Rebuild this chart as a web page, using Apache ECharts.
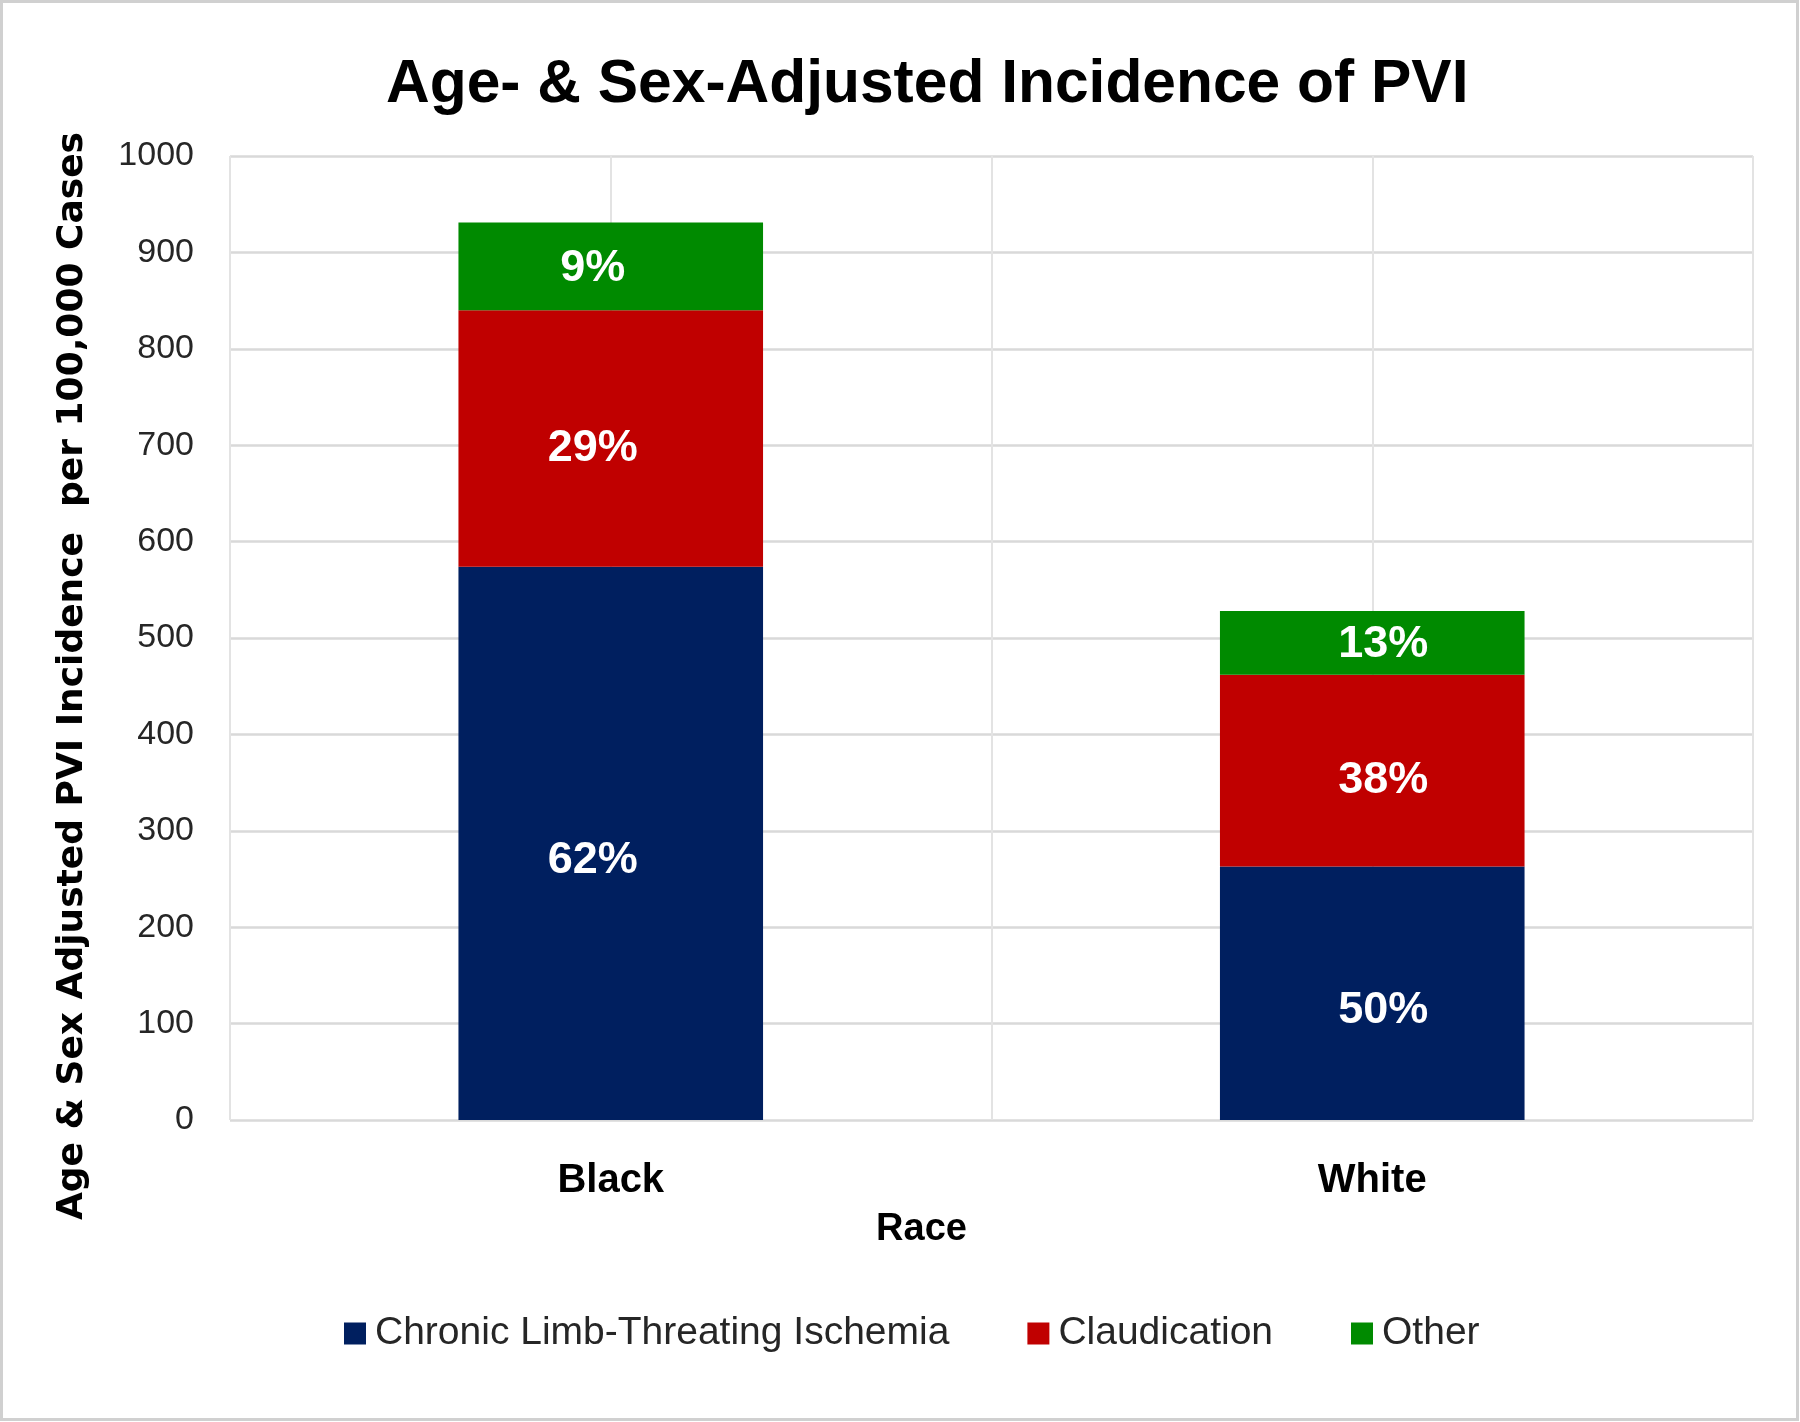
<!DOCTYPE html>
<html>
<head>
<meta charset="utf-8">
<script src="https://cdn.jsdelivr.net/npm/echarts@6/dist/echarts.min.js"></script>
<style>html,body{margin:0;padding:0;background:#fff}#c{width:1800px;height:1422px}</style>
</head>
<body>
<div id="c"></div>
<script>
// ---- data ----
const categories = ['Black', 'White'];
const seriesNames = ['Chronic Limb-Threating Ischemia', 'Claudication', 'Other'];
const clti = [574, 263];
const claudication = [266, 199];
const other = [91, 66];
const cltiLabels = ['62%', '50%'];
const claudicationLabels = ['29%', '38%'];
const otherLabels = ['9%', '13%'];
const yTicks = [0, 100, 200, 300, 400, 500, 600, 700, 800, 900, 1000];

// ---- style ----
const colors = ['#001F5F', '#C00000', '#008A00'];
const labelShiftX = [-18, 11];
const chart = echarts.init(document.getElementById('c'));

function mkSeries(name, values, labels, color, dy) {
  return {
    name: name,
    type: 'bar',
    stack: 'total',
    barWidth: '40%',
    xAxisIndex: 0,
    data: values.map((v, i) => ({ value: v, label: { offset: [labelShiftX[i], dy] } })),
    itemStyle: { color: color },
    label: {
      show: true,
      position: 'inside',
      formatter: p => labels[p.dataIndex],
      color: '#fff',
      fontFamily: 'Liberation Sans, Arial, sans-serif',
      fontWeight: 'bold',
      fontSize: 45
    },
    emphasis: { disabled: true }
  };
}

chart.setOption({
  animation: false,
  backgroundColor: '#fff',
  title: {
    text: 'Age- & Sex-Adjusted Incidence of PVI',
    left: 386,
    top: 55,
    padding: 0,
    textStyle: {
      fontFamily: 'Liberation Sans, Arial, sans-serif',
      fontWeight: 'bold',
      fontSize: 60.5,
      color: '#000'
    }
  },
  grid: { left: 230, right: 47, top: 156, bottom: 302, containLabel: false },
  legend: {
    data: seriesNames,
    left: 339,
    top: 1309,
    itemWidth: 22,
    itemHeight: 22,
    itemGap: 78,
    icon: 'rect',
    textStyle: {
      fontFamily: 'Liberation Sans, Arial, sans-serif',
      fontSize: 39,
      color: '#262626',
      padding: [0, 0, 0, 4]
    }
  },
  xAxis: [
    {
      type: 'category',
      data: categories,
      position: 'bottom',
      axisLine: { show: false },
      axisTick: { show: false },
      splitLine: { show: false },
      axisLabel: {
        margin: 41,
        fontFamily: 'Liberation Sans, Arial, sans-serif',
        fontWeight: 'bold',
        fontSize: 40,
        color: '#000'
      },
      name: 'Race',
      nameLocation: 'middle',
      nameGap: 91,
      nameTextStyle: {
        fontFamily: 'Liberation Sans, Arial, sans-serif',
        fontWeight: 'bold',
        fontSize: 38,
        color: '#000',
        padding: [0, 140, 0, 0]
      }
    },
    {
      type: 'value',
      min: 0,
      max: 4,
      interval: 1,
      position: 'bottom',
      axisLine: { show: false },
      axisTick: { show: false },
      axisLabel: { show: false },
      splitLine: { show: true, lineStyle: { color: '#e3e3e3', width: 2 } }
    }
  ],
  yAxis: {
    type: 'value',
    min: yTicks[0],
    max: yTicks[yTicks.length - 1],
    interval: 100,
    axisLine: { show: false },
    axisTick: { show: false },
    splitLine: { show: true, lineStyle: { color: '#d9d9d9', width: 2.5 } },
    axisLabel: {
      margin: 36,
      formatter: v => String(v),
      fontFamily: 'Liberation Sans, Arial, sans-serif',
      fontSize: 34,
      color: '#262626'
    },
    name: 'Age & Sex Adjusted PVI Incidence  per 100,000 Cases',
    nameLocation: 'middle',
    nameRotate: 90,
    nameGap: 139,
    nameTextStyle: {
      fontFamily: 'DejaVu Sans, sans-serif',
      fontWeight: 'bold',
      fontSize: 36,
      color: '#000',
      padding: [0, 76, 0, 0]
    }
  },
  graphic: [
    {
      type: 'rect',
      silent: true,
      z: 100,
      shape: { x: 1.5, y: 1.5, width: 1796, height: 1418 },
      style: { fill: 'none', stroke: '#d0d0d0', lineWidth: 3 }
    }
  ],
  series: [
    mkSeries(seriesNames[0], clti, cltiLabels, colors[0], 17),
    mkSeries(seriesNames[1], claudication, claudicationLabels, colors[1], 10),
    mkSeries(seriesNames[2], other, otherLabels, colors[2], 2)
  ]
});
</script>
</body>
</html>
